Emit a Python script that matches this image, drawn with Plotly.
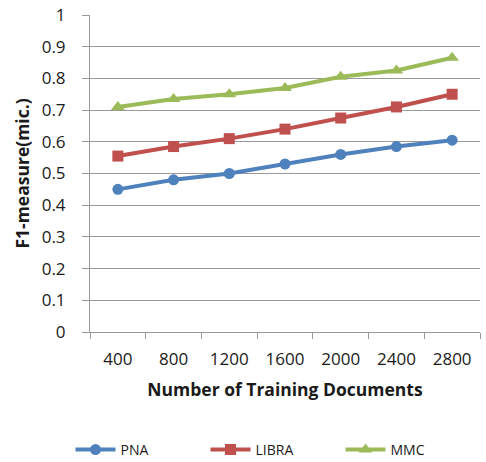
import plotly.graph_objects as go

categories = ["400", "800", "1200", "1600", "2000", "2400", "2800"]
pna = [0.45, 0.48, 0.50, 0.53, 0.56, 0.585, 0.605]
libra = [0.555, 0.585, 0.61, 0.64, 0.675, 0.71, 0.75]
mmc = [0.71, 0.735, 0.75, 0.77, 0.805, 0.825, 0.865]
y_ticks = [0, 0.1, 0.2, 0.3, 0.4, 0.5, 0.6, 0.7, 0.8, 0.9, 1]

font = "Open Sans"
fig = go.Figure()
series = [("PNA", pna, "#4F81BD", "circle", 11),
          ("LIBRA", libra, "#C0504D", "square", 11),
          ("MMC", mmc, "#9BBB59", "triangle-up", 12)]
for name, vals, col, sym, sz in series:
    fig.add_trace(go.Scatter(x=categories, y=vals, name=name, mode="lines+markers",
                             line=dict(color=col, width=4),
                             marker=dict(color=col, symbol=sym, size=sz)))

fig.update_layout(
    width=486, height=470,
    margin=dict(l=90, r=6, t=15, b=137),
    paper_bgcolor="white", plot_bgcolor="white",
    font=dict(family=font, color="#1a1a1a"),
    showlegend=True,
    legend=dict(orientation="h", x=-0.05, xanchor="left", y=-0.368, yanchor="middle",
                font=dict(size=14, color="#1a1a1a"), entrywidth=80, itemwidth=40,
                tracegroupgap=0),
    xaxis=dict(type="category", showgrid=False, showline=True, linecolor="#999",
               ticks="outside", ticklen=6, tickcolor="#999", tickson="boundaries",
               tickfont=dict(size=17), range=[-0.5, 6.5], automargin=False,
               ticklabelstandoff=12,
               title=dict(text="<b>Number of Training Documents</b>", font=dict(size=17.5), standoff=14)),
    yaxis=dict(range=[0, 1], tickvals=y_ticks, ticktext=[f"{v:g}" for v in y_ticks],
               showgrid=True, gridcolor="#999", gridwidth=1, automargin=False,
               showline=True, linecolor="#999", ticks="outside", ticklen=7, tickcolor="#999",
               tickfont=dict(size=17), zeroline=False, ticklabelstandoff=13,
               ticklabeloverflow="allow",
               title=dict(text="<b>F1-measure(mic.)</b>", font=dict(size=17.5), standoff=7)),
)
fig.write_html("out.html", config={"displayModeBar": False},
               post_script="document.body.style.margin='0';")
